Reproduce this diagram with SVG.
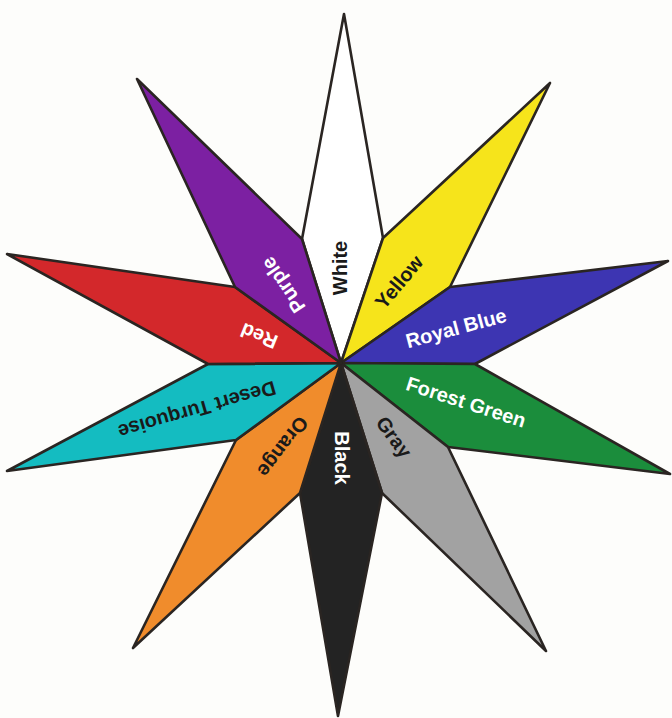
<svg xmlns="http://www.w3.org/2000/svg" width="672" height="718" viewBox="0 0 672 718">
<style>
.pt{stroke:#2a2522;stroke-width:2.6;stroke-linejoin:round}
.lb{font-family:"Liberation Sans",Arial,sans-serif;font-weight:bold;font-size:20px;text-anchor:middle;dominant-baseline:central}
.w{fill:#ffffff}
.k{fill:#1a1a1a}
</style>
<rect width="672" height="718" fill="#fdfdfb"/>
<g id="white"><polygon class="pt" fill="#ffffff" points="344,14 383,238 341,363 302,239"/><text class="lb k" transform="translate(340,268) rotate(-90)">White</text></g>
<g id="yellow"><polygon class="pt" fill="#f6e41b" points="550,83 450,287 341,363 383,238"/><text class="lb k" transform="translate(399,282) rotate(-50)">Yellow</text></g>
<g id="royal-blue"><polygon class="pt" fill="#3d35b2" points="668,261 475,364 341,363 450,287"/><text class="lb w" transform="translate(456,328) rotate(-15)">Royal Blue</text></g>
<g id="forest-green"><polygon class="pt" fill="#1b8d3c" points="670,474 448,447 341,363 475,364"/><text class="lb w" transform="translate(466,402) rotate(18)">Forest Green</text></g>
<g id="gray"><polygon class="pt" fill="#a2a2a2" points="546,651 382,493 341,363 448,447"/><text class="lb k" transform="translate(394,437) rotate(54)">Gray</text></g>
<g id="black"><polygon class="pt" fill="#232323" points="338,716 300,493 341,363 382,493"/><text class="lb w" transform="translate(342,458) rotate(90)">Black</text></g>
<g id="orange"><polygon class="pt" fill="#f08c2c" points="133,648 236,440 341,363 300,493"/><text class="lb k" transform="translate(283,447) rotate(127)">Orange</text></g>
<g id="desert-turquoise"><polygon class="pt" fill="#14bcc1" points="7,471 208,364 341,363 236,440"/><text class="lb k" transform="translate(197,410) rotate(164)">Desert Turquoise</text></g>
<g id="red"><polygon class="pt" fill="#d3282b" points="7,254 235,287 341,363 208,364"/><text class="lb w" transform="translate(259,336) rotate(202)">Red</text></g>
<g id="purple"><polygon class="pt" fill="#7c20a2" points="137,79 302,239 341,363 235,287"/><text class="lb w" transform="translate(283,285) rotate(236)">Purple</text></g>
</svg>
